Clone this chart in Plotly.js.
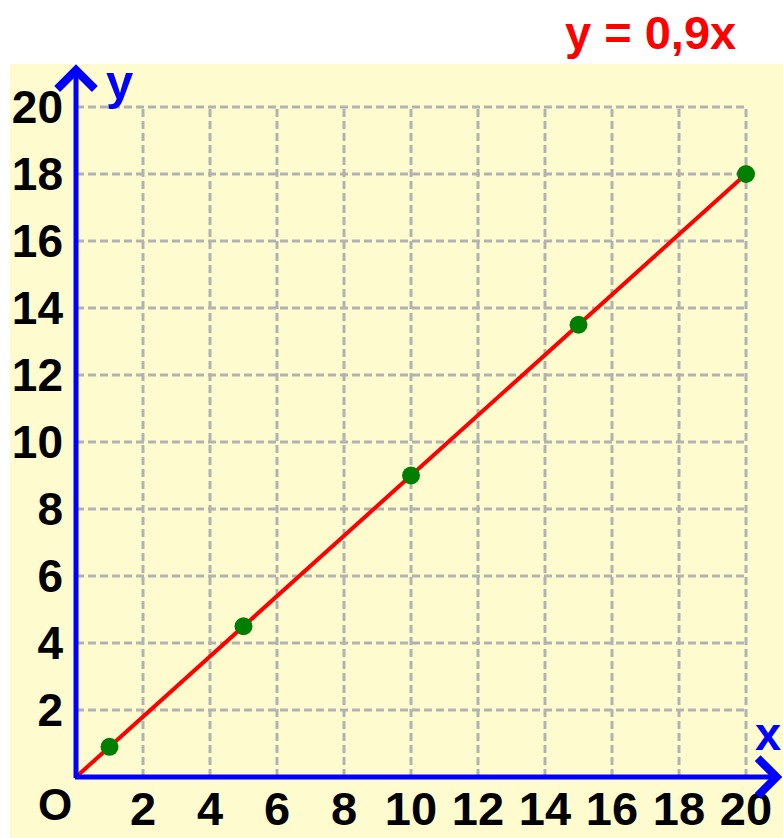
<!DOCTYPE html>
<html>
<head>
<meta charset="utf-8">
<script src="https://cdn.plot.ly/plotly-3.0.1.min.js"></script>
<style>html,body{margin:0;padding:0;background:#fff;}</style>
</head>
<body>
<div id="chart" style="width:783px;height:838px;"></div>
<script>
// ---- data ----
const pointX = [1, 5, 10, 15, 20];
const pointY = [0.9, 4.5, 9, 13.5, 18];
const lineX = [0, 20];
const lineY = [0, 18];
const tickVals = [2, 4, 6, 8, 10, 12, 14, 16, 18, 20];
const tickText = ['2', '4', '6', '8', '10', '12', '14', '16', '18', '20'];
const gridMax = 20;
const titleText = 'y = 0,9x';

// ---- layout geometry ----
const W = 783, H = 838;
const M = {l: 76, r: 0, t: 64, b: 61};
const unit = 33.5;
const plotW = W - M.l - M.r, plotH = H - M.t - M.b;
const xMax = plotW / unit, yMax = plotH / unit;
const FONT = '"Liberation Sans", Arial, sans-serif';
const yellow = '#fefccf';
const blue = '#0000ff';
const gridColor = '#b2b2b2';

const shapes = [];
// yellow panel
shapes.push({type: 'rect', xref: 'paper', yref: 'paper', layer: 'below',
  x0: (10 - M.l) / plotW, x1: 1, y0: -M.b / plotH, y1: 1,
  fillcolor: yellow, line: {width: 0}});
// grid
tickVals.forEach(v => {
  shapes.push({type: 'line', xref: 'x', yref: 'y', layer: 'below',
    x0: v, x1: v, y0: 0, y1: gridMax, line: {color: gridColor, width: 3, dash: '8px,4px'}});
  shapes.push({type: 'line', xref: 'x', yref: 'y', layer: 'below',
    x0: 0, x1: gridMax, y0: v, y1: v, line: {color: gridColor, width: 3, dash: '8px,4px'}});
});

const annotations = [
  // axis arrows
  {x: xMax - 0.02, y: 0, ax: -0.075, ay: 0, xref: 'x', yref: 'y', axref: 'x', ayref: 'y',
   text: '', showarrow: true, arrowhead: 4, arrowwidth: 5, arrowsize: 1.45, arrowcolor: blue, standoff: 0, startstandoff: 0, font: {size: 1}},
  {x: 0, y: yMax - 0.01, ax: 0, ay: -0.075, xref: 'x', yref: 'y', axref: 'x', ayref: 'y',
   text: '', showarrow: true, arrowhead: 4, arrowwidth: 5, arrowsize: 1.45, arrowcolor: blue, standoff: 0, startstandoff: 0, font: {size: 1}},
  // axis letters
  {x: (119 - M.l) / plotW, y: (H - M.b - 82) / plotH, xref: 'paper', yref: 'paper', text: 'y', showarrow: false,
   xanchor: 'center', yanchor: 'middle', font: {family: FONT, size: 49, color: blue, weight: 'bold'}},
  {x: 1, y: (H - M.b - 733) / plotH, xref: 'paper', yref: 'paper', text: 'x', showarrow: false,
   xanchor: 'right', yanchor: 'middle', font: {family: FONT, size: 47, color: blue, weight: 'bold'}},
  // origin
  {x: (55 - M.l) / plotW, y: (H - M.b - 805) / plotH, xref: 'paper', yref: 'paper', text: 'O', showarrow: false,
   xanchor: 'center', yanchor: 'middle', font: {family: FONT, size: 44, color: '#000', weight: 'bold'}},
  // title
  {x: (738 - M.l) / plotW, y: (H - M.b - 32) / plotH, xref: 'paper', yref: 'paper', text: titleText, showarrow: false,
   xanchor: 'right', yanchor: 'middle', font: {family: FONT, size: 47, color: '#ff0000', weight: 'bold'}}
];

const traces = [
  {type: 'scatter', mode: 'lines', x: lineX, y: lineY, line: {color: '#ff0000', width: 4}, hoverinfo: 'skip', cliponaxis: false},
  {type: 'scatter', mode: 'markers', x: pointX, y: pointY, marker: {color: '#007f00', size: 18}, cliponaxis: false}
];

const axisCommon = {
  showgrid: false, zeroline: false, showline: false, ticks: '',
  tickmode: 'array', tickvals: tickVals, ticktext: tickText,
  fixedrange: true
};

const layout = {
  width: W, height: H,
  margin: {l: M.l, r: M.r, t: M.t, b: M.b, pad: 0},
  paper_bgcolor: '#ffffff', plot_bgcolor: 'rgba(0,0,0,0)',
  showlegend: false,
  xaxis: Object.assign({}, axisCommon, {range: [0, xMax], ticklabelstandoff: 0,
    tickfont: {family: FONT, size: 47, color: '#000', weight: 'bold'}}),
  yaxis: Object.assign({}, axisCommon, {range: [0, yMax], ticklabelstandoff: 12,
    tickfont: {family: FONT, size: 46, color: '#000', weight: 'bold'}}),
  shapes: shapes,
  annotations: annotations
};

Plotly.newPlot('chart', traces, layout, {displayModeBar: false, staticPlot: true});
</script>
</body>
</html>
